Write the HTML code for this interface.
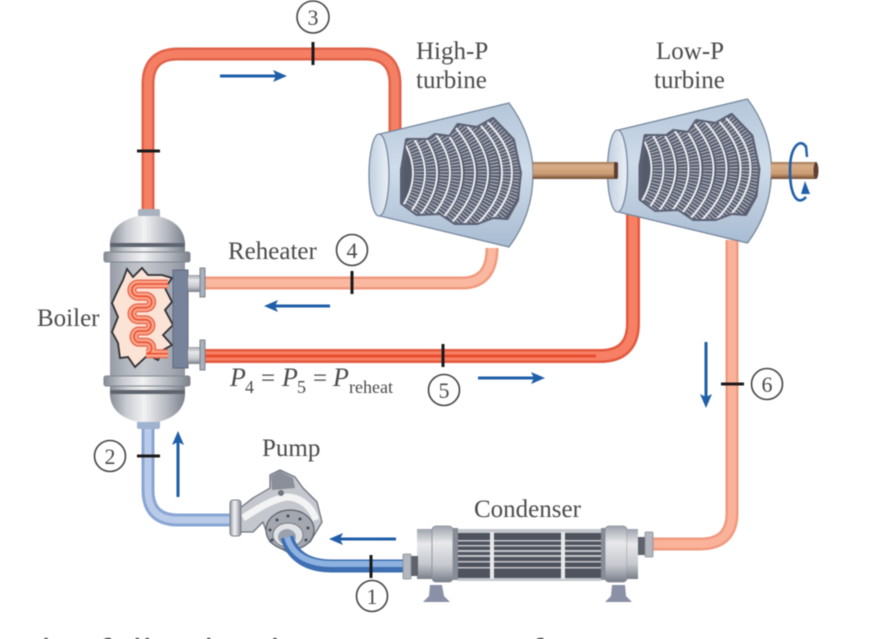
<!DOCTYPE html>
<html>
<head>
<meta charset="utf-8">
<style>
html,body{margin:0;padding:0;background:#fff;width:890px;height:639px;overflow:hidden}
svg{display:block;filter:blur(0.5px)}
text{font-family:"Liberation Serif",serif;fill:#4a4a4a}
.l{font-size:25px}
.n{font-size:22px;text-anchor:middle}
.c{fill:#fff;stroke:#444;stroke-width:1.6}
.t{stroke:#1a1a1a;stroke-width:3;fill:none}
.a{stroke:#1f5ea8;stroke-width:3;fill:none}
.h{fill:#1f5ea8}
.b{font-family:"DejaVu Sans",sans-serif;font-size:36px;fill:#000}
</style>
</head>
<body>
<svg width="890" height="639" viewBox="0 0 890 639" xmlns="http://www.w3.org/2000/svg">
<defs>
<linearGradient id="m" x1="0" x2="1" y1="0" y2="0">
<stop offset="0" stop-color="#868c96"/><stop offset=".22" stop-color="#c9ccd2"/><stop offset=".45" stop-color="#f2f2f3"/><stop offset=".75" stop-color="#b6bac1"/><stop offset="1" stop-color="#7b818c"/>
</linearGradient>
<linearGradient id="b" x1="0" x2="0" y1="0" y2="1">
<stop offset="0" stop-color="#9ea3ac"/><stop offset=".3" stop-color="#e8e9eb"/><stop offset=".7" stop-color="#c5c8ce"/><stop offset="1" stop-color="#787e89"/>
</linearGradient>
<linearGradient id="tb" x1="0" x2="0" y1="0" y2="1">
<stop offset="0" stop-color="#b4c6da"/><stop offset=".45" stop-color="#cfdcea"/><stop offset="1" stop-color="#a9bcd2"/>
</linearGradient>
<linearGradient id="el" x1="0" x2="1" y1="0" y2="0">
<stop offset="0" stop-color="#c2d0e1"/><stop offset="1" stop-color="#eaf0f6"/>
</linearGradient>
<linearGradient id="sh" x1="0" x2="0" y1="0" y2="1">
<stop offset="0" stop-color="#9c7555"/><stop offset=".2" stop-color="#d8ae88"/><stop offset=".7" stop-color="#cc9c75"/><stop offset="1" stop-color="#6e4c33"/>
</linearGradient>
<clipPath id="rc"><polygon points="407,140 428,140 435,135 450,137 458,125 477,128 493,119 513,140 520,173 517,200 507,218 493,217 477,223 455,223 440,213 417,214 402,203 402,170"/></clipPath>
<path id="arc" d="M-40,108 Q40,173 -40,238"/>
<g id="turb">
<path d="M380,134 L509,103 Q533,135 533,174 Q533,215 509,247 L380,216 Z" fill="url(#tb)" stroke="#76879c" stroke-width="1.300"/>
<ellipse cx="379" cy="175" rx="10" ry="41" fill="url(#el)" stroke="#76879c" stroke-width="1.300"/>
<polygon points="407,140 428,140 435,135 450,137 458,125 477,128 493,119 513,140 520,173 517,200 507,218 493,217 477,223 455,223 440,213 417,214 402,203 402,170" fill="#565b6b" stroke="#5a6072" stroke-width="4" stroke-linejoin="round"/>
<g clip-path="url(#rc)" fill="none">
<g stroke="#aeb2c0" stroke-width="8.500" stroke-dasharray="1.200 2">
<use href="#arc" x="419"/><use href="#arc" x="431"/><use href="#arc" x="444"/><use href="#arc" x="456"/><use href="#arc" x="469"/><use href="#arc" x="482"/><use href="#arc" x="495"/><use href="#arc" x="507"/><use href="#arc" x="518"/>
</g>
<g stroke="#eef0f4" stroke-width="2">
<use href="#arc" x="413"/><use href="#arc" x="425"/><use href="#arc" x="437"/><use href="#arc" x="450"/><use href="#arc" x="462"/><use href="#arc" x="475"/><use href="#arc" x="488"/><use href="#arc" x="502"/><use href="#arc" x="512"/>
</g>
</g>
</g>
</defs>

<!-- pipes -->
<g fill="none">
<path d="M148,214 V84 Q148,54 178,54 H365 Q395,54 395,84 V132" stroke="#e0624a" stroke-width="13"/>
<path d="M148,214 V84 Q148,54 178,54 H365 Q395,54 395,84 V132" stroke="#f57f63" stroke-width="8"/>

<path d="M205,283 H462 Q492,283 492,248" stroke="#f09a7e" stroke-width="13"/>
<path d="M205,283 H462 Q492,283 492,248" stroke="#fab8a0" stroke-width="8"/>

<path d="M205,356 H600 Q633,356 633,323 V212" stroke="#e25a40" stroke-width="14"/>
<path d="M205,356 H600 Q633,356 633,323 V212" stroke="#f77f63" stroke-width="9"/>
<path d="M205,356 H596" stroke="#ea4d32" stroke-width="3"/>

<path d="M732,240 V513 Q732,544 700,544 H650" stroke="#f09a7e" stroke-width="13"/>
<path d="M732,240 V513 Q732,544 700,544 H650" stroke="#fbb29a" stroke-width="8"/>

<path d="M148,424 V490 Q148,520 178,520 H232" stroke="#8aa5d4" stroke-width="13"/>
<path d="M148,424 V490 Q148,520 178,520 H232" stroke="#b9cbe9" stroke-width="7"/>
</g>

<!-- turbines and shafts -->
<rect x="768" y="162" width="48" height="17" fill="url(#sh)"/>
<use href="#turb"/>
<use href="#turb" transform="translate(238.500,-4)"/>
<rect x="533" y="162" width="84" height="17" fill="url(#sh)"/>
<rect x="614" y="162" width="4" height="17" rx="2" fill="#5c4030"/>
<rect x="771" y="162" width="45" height="17" fill="url(#sh)"/>
<ellipse cx="816" cy="170.500" rx="2.500" ry="8.500" fill="#5c4030"/>

<!-- rotation arrow -->
<path d="M806,147 C801,138 790,145 790,170 C790,197 798,206 806,197" fill="none" stroke="#1f5ea8" stroke-width="2.600"/>
<path d="M806,146 L807,157" fill="none" stroke="#1f5ea8" stroke-width="2.400"/>
<polygon points="801,194 805,181 810,194" class="h"/>

<!-- boiler -->
<rect x="138" y="209" width="22" height="8" rx="2" fill="#a9b2c0"/>
<rect x="137" y="421" width="23" height="8" rx="2" fill="#9fb2d0"/>
<path d="M110,252 V242 Q112,222 138,216 H158 Q183,222 185,242 V252 Z" fill="url(#m)"/>
<rect x="110" y="243" width="75" height="4" fill="#5f6570"/>
<path d="M110,386 V396 Q112,416 138,422 H158 Q183,416 185,396 V386 Z" fill="url(#m)"/>
<rect x="110" y="390" width="75" height="4" fill="#5f6570"/>
<rect x="110" y="260" width="75" height="118" fill="#a2a7b1"/>
<rect x="110" y="260" width="75" height="118" fill="url(#m)" opacity=".45"/>
<rect x="104" y="252" width="86" height="10" rx="2" fill="url(#m)" stroke="#80858f" stroke-width="1"/>
<rect x="104" y="376" width="86" height="10" rx="2" fill="url(#m)" stroke="#80858f" stroke-width="1"/>
<polygon points="118,290 123,280 127,269 133,277 142,268 148,275 162,275 172,278 165,288 172,302 165,310 173,325 163,335 172,345 163,350 158,360 148,355 135,367 128,357 120,358 118,343 112,332 118,317 112,303" fill="#fbe3d6" stroke="#2f2f33" stroke-width="1.800" stroke-linejoin="miter"/>
<g fill="none">
<path d="M168,284 H138 A6 6 0 0 0 138,296.300 H146 A5.700 5.700 0 0 1 146,307.700 H138 A6 6 0 0 0 138,319.700 H146 A5.700 5.700 0 0 1 146,331 H138 A6 6 0 0 0 138,342.300 H146 A5.700 5.700 0 0 1 146,353.700 H168" stroke="#e86a50" stroke-width="9"/>
<path d="M168,284 H138 A6 6 0 0 0 138,296.300 H146 A5.700 5.700 0 0 1 146,307.700 H138 A6 6 0 0 0 138,319.700 H146 A5.700 5.700 0 0 1 146,331 H138 A6 6 0 0 0 138,342.300 H146 A5.700 5.700 0 0 1 146,353.700 H168" stroke="#f9a98f" stroke-width="6"/>
<path d="M168,284 H138 A6 6 0 0 0 138,296.300 H146 A5.700 5.700 0 0 1 146,307.700 H138 A6 6 0 0 0 138,319.700 H146 A5.700 5.700 0 0 1 146,331 H138 A6 6 0 0 0 138,342.300 H146 A5.700 5.700 0 0 1 146,353.700 H168" stroke="#ee5536" stroke-width="1.800"/>
</g>
<rect x="173" y="270" width="15" height="98" fill="#77839b" stroke="#5e687d" stroke-width="1"/>
<rect x="188" y="275" width="12" height="17" fill="url(#b)"/>
<rect x="188" y="347" width="12" height="17" fill="url(#b)"/>
<rect x="200" y="268" width="5" height="29" fill="#aab0ba" stroke="#7b818c" stroke-width="1"/>
<rect x="200" y="340" width="5" height="30" fill="#aab0ba" stroke="#7b818c" stroke-width="1"/>

<!-- pump -->
<polygon points="240,508 253,498 270,488 270,475 280,470 295,477 303,488 317,502 322,522 310,542 287,552 270,542 263,522 253,532 240,532" fill="#c4c7cd" stroke="#6f747e" stroke-width="1.300" stroke-linejoin="round"/>
<path d="M243,518 C256,510 270,500 286,497 C302,497 312,508 316,520" fill="none" stroke="#f4f4f5" stroke-width="7"/>
<polygon points="271,476 280,471 293,478 295,488 272,490" fill="#8a8f99"/>
<circle cx="281" cy="493" r="3" fill="#6f747e"/>
<rect x="230" y="500" width="11" height="36" rx="3" fill="url(#m)" stroke="#7a808a" stroke-width="1"/>
<ellipse cx="290" cy="530" rx="24" ry="20" fill="#a3a7b0" stroke="#5c616b" stroke-width="1.200"/>
<g fill="#444a55">
<circle cx="277" cy="520" r="1.500"/><circle cx="288" cy="516" r="1.500"/><circle cx="300" cy="519" r="1.500"/><circle cx="308" cy="528" r="1.500"/><circle cx="270" cy="530" r="1.500"/><circle cx="272" cy="540" r="1.500"/><circle cx="306" cy="540" r="1.500"/>
</g>
<ellipse cx="288" cy="535" rx="15" ry="12" fill="#e2e3e6" stroke="#777c86" stroke-width="1"/>
<ellipse cx="287" cy="537" rx="9" ry="8" fill="#9ca2ad"/>

<g fill="none">
<path d="M287,537 C292,556 308,566 332,566 H405" stroke="#3e6fb2" stroke-width="13"/>
<path d="M287,537 C292,555 308,564 332,564 H405" stroke="#8db2e0" stroke-width="6"/>
</g>

<!-- condenser -->
<rect x="458" y="532" width="143" height="47" fill="#4f535d"/>
<g fill="#c3c6cc">
<rect x="458" y="529" width="143" height="4"/><rect x="458" y="578" width="143" height="3"/>
<rect x="458" y="540" width="143" height="1.500"/><rect x="458" y="545" width="143" height="1.500"/><rect x="458" y="550" width="143" height="2"/><rect x="458" y="555" width="143" height="2"/><rect x="458" y="561" width="143" height="1.500"/><rect x="458" y="567" width="143" height="1.500"/>
</g>
<rect x="490" y="532" width="4" height="47" fill="#e8e9ec"/>
<rect x="561" y="532" width="4" height="47" fill="#e8e9ec"/>
<rect x="417" y="529" width="16" height="50" fill="url(#b)"/>
<rect x="432" y="526" width="21" height="56" rx="4" fill="url(#b)" stroke="#858a94" stroke-width=".8"/>
<rect x="453" y="528" width="5" height="52" fill="#878c96"/>
<rect x="601" y="528" width="5" height="52" fill="#878c96"/>
<rect x="605" y="526" width="22" height="56" rx="4" fill="url(#b)" stroke="#858a94" stroke-width=".8"/>
<rect x="627" y="529" width="11" height="50" fill="url(#b)"/>
<rect x="638" y="537" width="8" height="18" fill="#5e626c"/>
<rect x="645" y="532" width="8" height="25" rx="1" fill="#b3b7be" stroke="#868b95" stroke-width=".8"/>
<rect x="410" y="556" width="8" height="20" fill="#5e626c"/>
<rect x="403" y="554" width="8" height="25" rx="1" fill="#b3b7be" stroke="#868b95" stroke-width=".8"/>
<polygon points="430,585 442,585 444,596 450,602 423,602 429,596" fill="#8a90a6"/>
<polygon points="612,585 625,585 626,596 632,602 605,602 611,596" fill="#8a90a6"/>

<!-- ticks -->
<path class="t" d="M313,42 V65"/>
<path class="t" d="M137,151 H160"/>
<path class="t" d="M352,271 V294"/>
<path class="t" d="M443,344 V367"/>
<path class="t" d="M721,384 H744"/>
<path class="t" d="M137,456 H160"/>
<path class="t" d="M371,555 V578"/>

<!-- flow arrows -->
<path class="a" d="M220,76 H276"/><polygon class="h" points="287,76 273,70 276,76 273,82"/>
<path class="a" d="M330,306 H275"/><polygon class="h" points="264,306 278,300 275,306 278,312"/>
<path class="a" d="M478,378 H534"/><polygon class="h" points="545,378 531,372 534,378 531,384"/>
<path class="a" d="M706,342 V397"/><polygon class="h" points="706,408 700,394 706,397 712,394"/>
<path class="a" d="M178,497 V442"/><polygon class="h" points="178,431 172,445 178,442 184,445"/>
<path class="a" d="M396,539 H340"/><polygon class="h" points="329,539 343,533 340,539 343,545"/>

<!-- number circles -->
<circle class="c" cx="313" cy="17" r="16"/><text class="n" x="313" y="25">3</text>
<circle class="c" cx="352" cy="250" r="15.500"/><text class="n" x="352" y="258">4</text>
<circle class="c" cx="444" cy="390" r="15.500"/><text class="n" x="444" y="398">5</text>
<circle class="c" cx="767" cy="384" r="15.500"/><text class="n" x="767" y="392">6</text>
<circle class="c" cx="110" cy="456" r="15.500"/><text class="n" x="110" y="464">2</text>
<circle class="c" cx="372" cy="596" r="15.500"/><text class="n" x="372" y="604">1</text>

<!-- labels -->
<text class="l" x="416" y="59">High-P</text>
<text class="l" x="416" y="88">turbine</text>
<text class="l" x="656" y="59">Low-P</text>
<text class="l" x="654" y="88">turbine</text>
<text class="l" x="228" y="259">Reheater</text>
<text class="l" x="37" y="326">Boiler</text>
<text class="l" x="262" y="456">Pump</text>
<text class="l" x="474" y="517">Condenser</text>
<text x="230" y="386" font-size="26" font-style="italic">P</text>
<text x="245" y="393" font-size="18">4</text>
<text x="261" y="386" font-size="25">=</text>
<text x="282" y="386" font-size="26" font-style="italic">P</text>
<text x="297" y="393" font-size="18">5</text>
<text x="313" y="386" font-size="25">=</text>
<text x="333" y="386" font-size="26" font-style="italic">P</text>
<text x="349" y="393" font-size="18">reheat</text>

<!-- cut-off text at the bottom edge -->
<text class="b" x="27" y="665">the following</text>
<text class="b" x="270" y="665">known</text>
<text class="b" x="508" y="665">of</text>
</svg>
</body>
</html>
